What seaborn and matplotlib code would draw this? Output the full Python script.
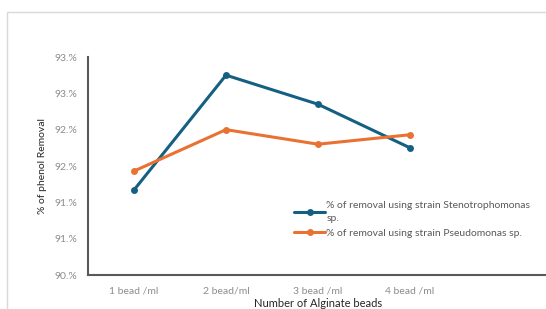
#!/usr/bin/env python3
import matplotlib
matplotlib.use("Agg")
import matplotlib.pyplot as plt
import pandas as pd
import seaborn as sns
from matplotlib.patches import Rectangle

# ------------------------------------------------------------------------------
# Data
# ------------------------------------------------------------------------------
BEADS = ["1 bead /ml", "2 bead/ml", "3 bead /ml", "4 bead /ml"]
STENO = [91.17, 92.75, 92.35, 91.75]
PSEUDO = [91.43, 92.00, 91.80, 91.93]
SERIES = [
    "% of removal using strain Stenotrophomonas\nsp.",
    "% of removal using strain Pseudomonas sp.",
]
Y_TICKS = [90.0, 90.5, 91.0, 91.5, 92.0, 92.5, 93.0]
Y_TICK_LABELS = ["90.%", "91.%", "91.%", "92.%", "92.%", "93.%", "93.%"]

X_LABEL = "Number of Alginate beads"
Y_LABEL = "% of phenol Removal"

BLUE = "#156082"
ORANGE = "#E97132"
TICK_COLOR = "#8c8c8c"
SPINE_COLOR = "#595959"

df = pd.DataFrame({
    "beads": BEADS * 2,
    "removal": STENO + PSEUDO,
    "series": [SERIES[0]] * len(BEADS) + [SERIES[1]] * len(BEADS),
})

sns.set_style("white")
plt.rcParams["font.family"] = ["Lato", "DejaVu Sans"]

fig = plt.figure(figsize=(5.46, 3.09), dpi=100)
fig.patches.append(Rectangle((7 / 546, -0.1), 1.2, 1 - 12 / 309 + 0.1,
                             transform=fig.transFigure, fill=False,
                             edgecolor="#d9d9d9", linewidth=1.0))
ax = fig.add_axes([88 / 546, 1 - 275 / 309, 460 / 546, 218 / 309])

sns.lineplot(data=df, x="beads", y="removal", hue="series",
             palette=[BLUE, ORANGE], marker="o", markersize=5,
             markeredgewidth=0, linewidth=2.2, sort=False, ax=ax)

ax.set_xlim(-0.5, 4.5)
ax.set_ylim(90.0, 93.0)
ax.set_yticks(Y_TICKS)
ax.set_yticklabels(Y_TICK_LABELS)
ax.tick_params(axis="both", length=0, labelsize=7.5, colors=TICK_COLOR)
ax.tick_params(axis="x", pad=8)
ax.tick_params(axis="y", pad=8)
ax.set_xlabel(X_LABEL, fontsize=8, color="#262626", labelpad=2)
ax.set_ylabel(Y_LABEL, fontsize=7.5, color="#262626", labelpad=5)

for side in ["top", "right"]:
    ax.spines[side].set_visible(False)
for side in ["left", "bottom"]:
    ax.spines[side].set_color(SPINE_COLOR)
    ax.spines[side].set_linewidth(1.5)

ax.legend_.remove()
handles, labels = ax.get_legend_handles_labels()
leg = fig.legend(handles, labels, loc="upper left",
                 bbox_to_anchor=(290 / 546, 1 - 197 / 309),
                 frameon=False, fontsize=7.5, handlelength=3.0,
                 handletextpad=0.1, labelspacing=0.5, borderaxespad=0)
for t in leg.get_texts():
    t.set_color("#595959")
    t.set_linespacing(1.6)

fig.savefig("out.png", dpi=100)
